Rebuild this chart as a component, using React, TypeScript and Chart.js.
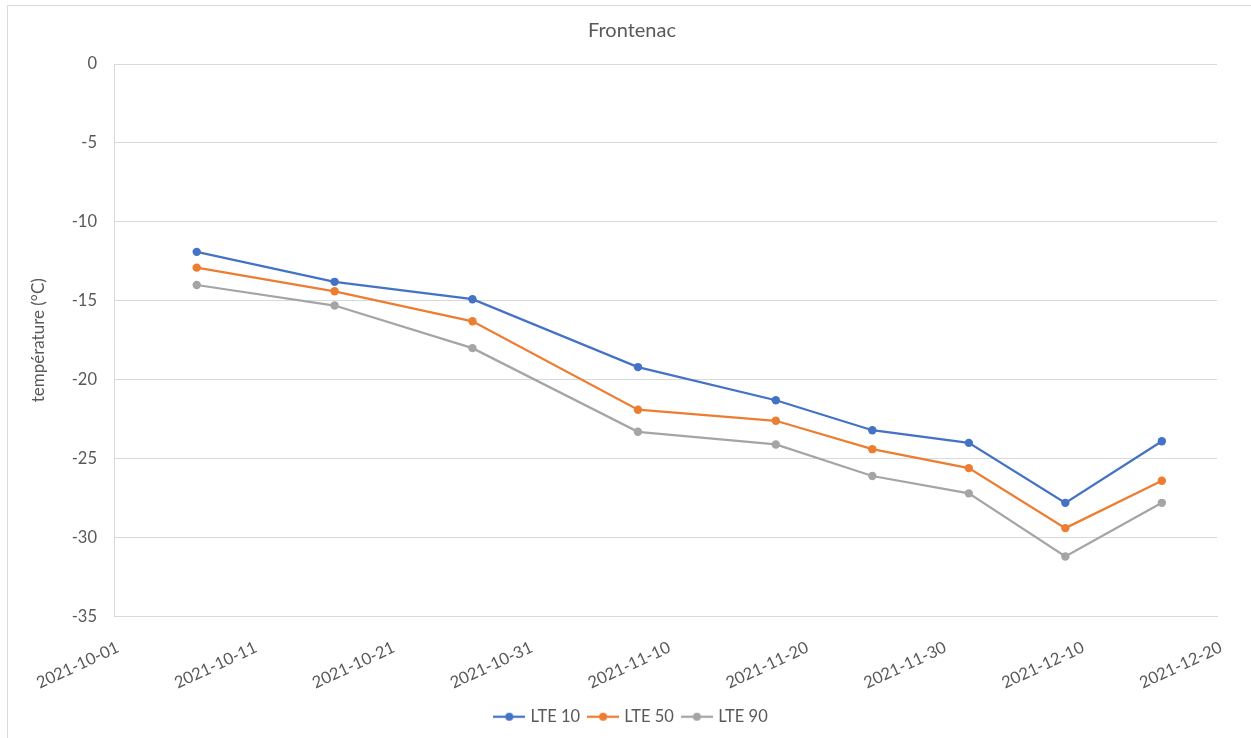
import React, { useEffect, useRef } from "react";
import { Chart, registerables } from "chart.js";

Chart.register(...registerables);

// ---- data ----
const chartTitle = "Frontenac";
const yAxisTitle = "température (°C)";
const axisStartDate = "2021-10-01";
const axisEndDate = "2021-12-20";
const xTickStepDays = 10;
const sampleDates = [
  "2021-10-07",
  "2021-10-17",
  "2021-10-27",
  "2021-11-08",
  "2021-11-18",
  "2021-11-25",
  "2021-12-02",
  "2021-12-09",
  "2021-12-16",
];
const seriesNames = ["LTE 10", "LTE 50", "LTE 90"];
const lte10 = [-11.9, -13.8, -14.9, -19.2, -21.3, -23.2, -24.0, -27.8, -23.9];
const lte50 = [-12.9, -14.4, -16.3, -21.9, -22.6, -24.4, -25.6, -29.4, -26.4];
const lte90 = [-14.0, -15.3, -18.0, -23.3, -24.1, -26.1, -27.2, -31.2, -27.8];
const yMin = -35;
const yMax = 0;
const yStep = 5;

// ---- helpers ----
const DAY_MS = 86400000;
const baseMs = Date.parse(axisStartDate + "T00:00:00Z");
const toDay = (s: string) => (Date.parse(s + "T00:00:00Z") - baseMs) / DAY_MS;
const fmtDay = (d: number) =>
  new Date(baseMs + Math.round(d) * DAY_MS).toISOString().slice(0, 10);

const FONT = "Lato, 'Noto Sans', sans-serif";
const TEXT = "#595959";
const GRID = "#d9d9d9";
const COLORS = ["#4472C4", "#ED7D31", "#A5A5A5"];

function makeLegendIcon(color: string) {
  const c = document.createElement("canvas");
  c.width = 32;
  c.height = 10;
  const ctx = c.getContext("2d")!;
  ctx.strokeStyle = color;
  ctx.lineWidth = 2.25;
  ctx.beginPath();
  ctx.moveTo(0, 5);
  ctx.lineTo(32, 5);
  ctx.stroke();
  ctx.fillStyle = color;
  ctx.beginPath();
  ctx.arc(16, 5, 4, 0, Math.PI * 2);
  ctx.fill();
  return c;
}

export default function App() {
  const ref = useRef<HTMLCanvasElement | null>(null);

  useEffect(() => {
    if (!ref.current) return;
    const allSeries = [lte10, lte50, lte90];
    const icons = COLORS.map(makeLegendIcon);
    const chart = new Chart(ref.current, {
      type: "line",
      data: {
        datasets: allSeries.map((vals, i) => ({
          label: seriesNames[i],
          data: sampleDates.map((d, j) => ({ x: toDay(d), y: vals[j] })),
          borderColor: COLORS[i],
          backgroundColor: COLORS[i],
          borderWidth: 2.25,
          pointRadius: 4.2,
          pointBorderWidth: 0,
          pointBackgroundColor: COLORS[i],
          tension: 0,
          fill: false,
        })),
      },
      options: {
        animation: false,
        responsive: false,
        maintainAspectRatio: false,
        events: [],
        layout: { padding: { top: 0, left: 0, right: 0, bottom: 3 } },
        plugins: {
          tooltip: { enabled: false },
          title: {
            display: true,
            text: chartTitle,
            color: TEXT,
            font: { family: FONT, size: 20, weight: "normal" },
            padding: { top: 18.5, bottom: 21.5 },
          },
          legend: {
            position: "bottom",
            labels: {
              usePointStyle: true,
              pointStyleWidth: 26,
              padding: 10,
              color: TEXT,
              font: { family: FONT, size: 16.5 },
              generateLabels: (ch: any) => {
                const items = (Chart as any).defaults.plugins.legend.labels.generateLabels(ch);
                return items.map((it: any, i: number) => ({ ...it, pointStyle: icons[i] }));
              },
            },
          },
        },
        scales: {
          x: {
            type: "linear",
            min: toDay(axisStartDate),
            max: toDay(axisEndDate),
            afterFit: (s: any) => {
              s.height = 82;
            },
            grid: { display: false, drawTicks: false },
            border: { display: true, color: GRID, width: 1 },
            ticks: {
              stepSize: xTickStepDays,
              minRotation: 25,
              maxRotation: 25,
              padding: 21,
              labelOffset: 4,
              color: TEXT,
              font: { family: FONT, size: 16.5 },
              callback: (v: any) => fmtDay(Number(v)),
            },
          },
          y: {
            min: yMin,
            max: yMax,
            afterFit: (s: any) => {
              s.width = 114;
            },
            grid: { color: GRID, drawTicks: false },
            border: { display: true, color: GRID, width: 1 },
            ticks: {
              stepSize: yStep,
              padding: 17,
              color: TEXT,
              font: { family: FONT, size: 16.5 },
            },
            title: {
              display: true,
              text: yAxisTitle,
              color: TEXT,
              font: { family: FONT, size: 17 },
              padding: { top: 28.5, bottom: 0 },
            },
          },
          y2: {
            position: "right",
            display: true,
            afterFit: (s: any) => {
              s.width = 47;
            },
            grid: { display: false, drawTicks: false },
            border: { display: false },
            ticks: { display: false },
          },
        },
      } as any,
    });
    return () => chart.destroy();
  }, []);

  return (
    <div
      style={{
        position: "fixed",
        left: 0,
        top: 0,
        width: 1251,
        height: 738,
        overflow: "hidden",
        background: "#fff",
      }}
    >
      <div
        style={{
          position: "absolute",
          left: 7,
          top: 5,
          width: 1300,
          height: 800,
          border: "1px solid #d9d9d9",
          boxSizing: "border-box",
        }}
      />
      <canvas
        ref={ref}
        width={1264}
        height={738}
        style={{ position: "absolute", left: 0, top: 0, width: 1264, height: 738 }}
      />
    </div>
  );
}
